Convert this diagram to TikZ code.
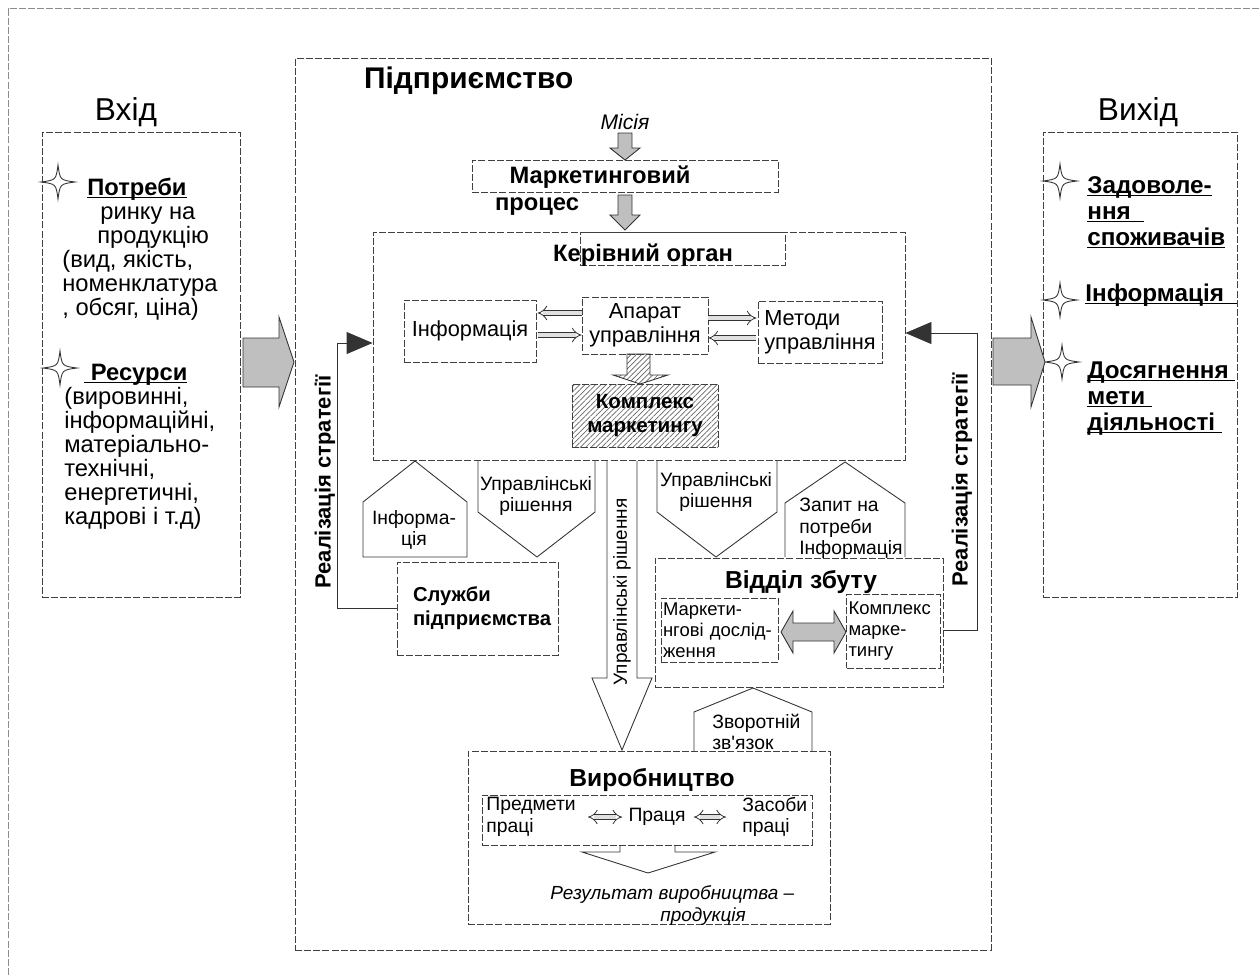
\documentclass[tikz,border=0pt]{standalone}
\usepackage{fontspec}
\setmainfont{Liberation Sans}
\usepackage{tikz}
\usetikzlibrary{positioning,arrows.meta,patterns}
\newlength\pxu
\setlength\pxu{0.2mm}
\setlength\lineskiplimit{-10pt}

\begin{document}
\begin{tikzpicture}[x=\pxu,y=-\pxu,
frm/.style={draw=black!75,dash pattern=on 4pt off 1.2pt,line width=.5pt},
ln/.style={draw=black!80,line width=.5pt},
box/.style={frm,rectangle,inner sep=1pt,align=center},
blk/.style={ln,fill=black!25},
dbl/.style={double=black!12,double distance=2.5pt,line width=.45pt,draw=black!80},
hd/.style={font=\fontsize{18}{20}\selectfont},
ttl/.style={font=\bfseries\fontsize{17}{19}\selectfont},
sub/.style={font=\bfseries\fontsize{13.5}{15}\selectfont},
lst/.style={inner sep=0pt,align=left,font=\fontsize{13.5}{13.7}\selectfont},
lsb/.style={inner sep=0pt,align=left,font=\bfseries\fontsize{13.8}{14.8}\selectfont},
nrm/.style={font=\fontsize{12.4}{13.5}\selectfont},
sml/.style={inner sep=0pt,font=\fontsize{11}{12.2}\selectfont},
tny/.style={font=\fontsize{10.5}{12}\selectfont},
vrt/.style={font=\bfseries\fontsize{12.5}{14}\selectfont,rotate=90},
sparkle/.pic={\draw[ln,fill=white] (0,-17) .. controls (2,-2) .. (17,0) .. controls (2,2) .. (0,17) .. controls (-2,2) .. (-17,0) .. controls (-2,-2) .. (0,-17) -- cycle;}
]
\useasboundingbox (0,0) rectangle (1259,975);
\draw[frm,draw=black!45] (8,975) -- (8,8) -- (1259,8);

\node (inpt) [box,minimum width=198\pxu,minimum height=465\pxu] at (141,364.5) {};
\node (outp) [box,minimum width=194\pxu,minimum height=465\pxu] at (1140,364.5) {};
\node (entr) [box,minimum width=696\pxu,minimum height=892\pxu] at (643,504) {};
\node (vhid) [hd] at (126,112) {Вхід};
\node (vyhd) [hd] at (1138,112) {Вихід};
\node (pidp) [ttl,anchor=west] at (358,81) {Підприємство};

\foreach \sx/\sy in {58/182,60/368,1060/181,1060/300,1062/362}
  \pic at (\sx,\sy) {sparkle};
\node (potr) [lst,anchor=north west] at (62,195) {\hspace*{5mm}\textbf{\underline{\smash{Потреби}}}\\
\hspace*{7.6mm}ринку на\\
\hspace*{7mm}продукцію\\
(вид, якість,\\
номенклатура\\
, обсяг, ціна)};
\node (resu) [lst,anchor=north west] at (64,380) {\hspace*{4mm}\textbf{\underline{\smash{\ Ресурси}}}\\
(вировинні,\\
інформаційні,\\
матеріально-\\
технічні,\\
енергетичні,\\
кадрові і т.д)};
\node (zadv) [lsb,anchor=north west] at (1087,193) {\underline{\smash{Задоволе-}}\\
\underline{\smash{ння\ \ }}\\
\underline{\smash{споживачів}}};
\node (infr) [lsb,anchor=west] at (1085,303) {\underline{\smash{Інформація\ \ }}};
\node (dosg) [lsb,anchor=north west] at (1087,378) {\underline{\smash{Досягнення\ }}\\
\underline{\smash{мети\ }}\\
\underline{\smash{діяльності\ }}};

\draw[blk] (243,338) -- (279,338) -- (279,317) -- (294,362) -- (279,407) -- (279,387) -- (243,387) -- cycle;
\draw[blk] (993,338) -- (1031,338) -- (1031,317) -- (1045,362) -- (1031,407) -- (1031,385) -- (993,385) -- cycle;

\node (misi) [font=\fontsize{12}{13}\selectfont\itshape] at (625,122) {Місія};
\draw[blk] (618,133) -- (632,133) -- (632,148) -- (640,148) -- (625,160) -- (610,148) -- (618,148) -- cycle;
\node (mark) [box,minimum width=306\pxu,minimum height=32\pxu] at (625,176) {};
\node (markt) [sub] at (600,177) {Маркетинговий};
\node (proc) [sub] at (537,207) {процес};
\draw[blk] (618,195) -- (632,195) -- (632,215) -- (640,215) -- (625,230) -- (610,215) -- (618,215) -- cycle;

\node (kerv) [box,minimum width=532\pxu,minimum height=228\pxu] at (639,346) {};
\node (kerb) [box,minimum width=205\pxu,minimum height=33\pxu] at (682.5,248.5) {};
\node (kervt) [sub] at (643,255) {Керівний орган};
\node (info) [box,nrm,minimum width=132\pxu,minimum height=62\pxu] at (470,331) {Інформація};
\node (apar) [box,nrm,minimum width=126\pxu,minimum height=57\pxu] at (645,325.5) {Апарат\\управління};
\node (metd) [box,nrm,align=left,minimum width=124\pxu,minimum height=62\pxu] at (820,332) {Методи\\управління};
\node (kmpl) [box,minimum width=146\pxu,minimum height=63\pxu,pattern=north east lines,pattern color=black!60,font=\bfseries\fontsize{11.7}{13.5}\selectfont] at (645,415.5) {Комплекс\\маркетингу};
\draw[dbl,-{Implies},shorten >=1\pxu] ([yshift=12.5\pxu]apar.west) -- ++(-45,0);
\draw[dbl,-{Implies},shorten <=1\pxu] ([yshift=-9.5\pxu]apar.west) ++(-45,0) -- ++(45,0);
\draw[dbl,-{Implies},shorten >=1\pxu] ([yshift=7.5\pxu]apar.east) -- ++(49,0);
\draw[dbl,-{Implies},shorten <=1\pxu] ([yshift=-12.5\pxu]apar.east) ++(49,0) -- ++(-49,0);
\draw[ln,pattern=north east lines,pattern color=black!60] (627,354) -- (650,354) -- (650,375) -- (668,375) -- (640,384) -- (613,375) -- (627,375) -- cycle;

\draw[ln] (363,557) -- (363,502) -- (415,461) -- (467,502) -- (467,557) -- cycle;
\node (infp) [sml,align=center] at (414,530) {Інформа-\\ція};
\draw[ln] (478,461) -- (478,512) -- (537,557) -- (595,512) -- (595,461);
\node (upr1) [sml,align=center] at (536,496) {Управлінські\\рішення};
\draw[ln,fill=white] (607,461) -- (607,678) -- (592,678) -- (622,750) -- (652,678) -- (637,678) -- (637,461);
\node (uprc) [font=\fontsize{10.8}{12}\selectfont,rotate=90] at (622,592) {Управлінські рішення};
\draw[ln] (657,461) -- (657,512) -- (716,557) -- (777,512) -- (777,461);
\node (upr2) [sml,align=center] at (716,492) {Управлінські\\рішення};
\draw[ln] (785,557) -- (785,503) -- (845,462) -- (905,503) -- (905,557);
\node (zapt) [sml,align=left,anchor=north west] at (799,498) {Запит на\\потреби\\Інформація};

\node (sluzh) [box,minimum width=161\pxu,minimum height=93\pxu,text width=129\pxu,align=left,font=\bfseries\fontsize{11.5}{13.5}\selectfont] at (477.5,608.5) {Служби\\підприємства};
\node (rlz1) [vrt] at (325,482) {Реалізація стратегії};
\draw[ln,-{Triangle[length=5.2mm,width=4.4mm]}] (sluzh.west) -- ++(-59,0) |- ([yshift=3\pxu]kerv.west);

\node (vidd) [box,minimum width=288\pxu,minimum height=129\pxu] at (799,622.5) {};
\node (viddt) [font=\bfseries\fontsize{14}{16}\selectfont] at (801,582) {Відділ збуту};
\node (mrkd) [box,tny,minimum width=117\pxu,minimum height=64\pxu,text width=113\pxu,align=left] at (719.5,630) {Маркети-\\нгові дослід-\\ження};
\node (kmp2) [box,tny,minimum width=93\pxu,minimum height=74\pxu,text width=90\pxu,align=left] at (893.5,631) {Комплекс\\марке-\\тингу};
\draw[blk] (781,632) -- (793,611) -- (793,623) -- (834,623) -- (834,611) -- (846,632) -- (834,653) -- (834,641) -- (793,641) -- (793,653) -- cycle;
\node (rlz2) [vrt] at (962,480) {Реалізація стратегії};
\draw[ln,-{Triangle[length=5.2mm,width=4.4mm]}] ([yshift=-8\pxu]vidd.east) -- ++(34,0) |- ([yshift=13\pxu]kerv.east);

\draw[ln] (694,751) -- (694,712) -- (753,688) -- (812,712) -- (812,751);
\node (zvrt) [sml,align=left,anchor=west] at (712,732) {Зворотній\\зв\textquotesingle{}язок};

\node (vyrb) [box,minimum width=362\pxu,minimum height=173\pxu] at (649,837.5) {};
\node (vyrbt) [font=\bfseries\fontsize{14}{16}\selectfont] at (652,780) {Виробництво};
\node (prac) [box,minimum width=330\pxu,minimum height=50\pxu] at (647,820) {};
\node (pred) [sml,align=left,anchor=west] at (486,817) {Предмети\\праці};
\node (prc) [sml] at (657,817) {Праця};
\node (zasb) [sml,align=left,anchor=west] at (742,817) {Засоби\\праці};
\draw[dbl,{Implies}-{Implies},shorten <=12\pxu,shorten >=6\pxu] (pred) -- (prc);
\draw[dbl,{Implies}-{Implies},shorten <=8\pxu,shorten >=16\pxu] (prc) -- (zasb);
\draw[ln] (620,845) -- (620,852) -- (582,852) -- (648,873) -- (715,852) -- (675,852) -- (675,845);
\node (rslt) [sml,align=left,anchor=north west,font=\fontsize{10.8}{12.5}\selectfont\itshape] at (550,885) {Результат виробництва –\\
\hspace*{22mm}продукція};
\end{tikzpicture}
\end{document}
